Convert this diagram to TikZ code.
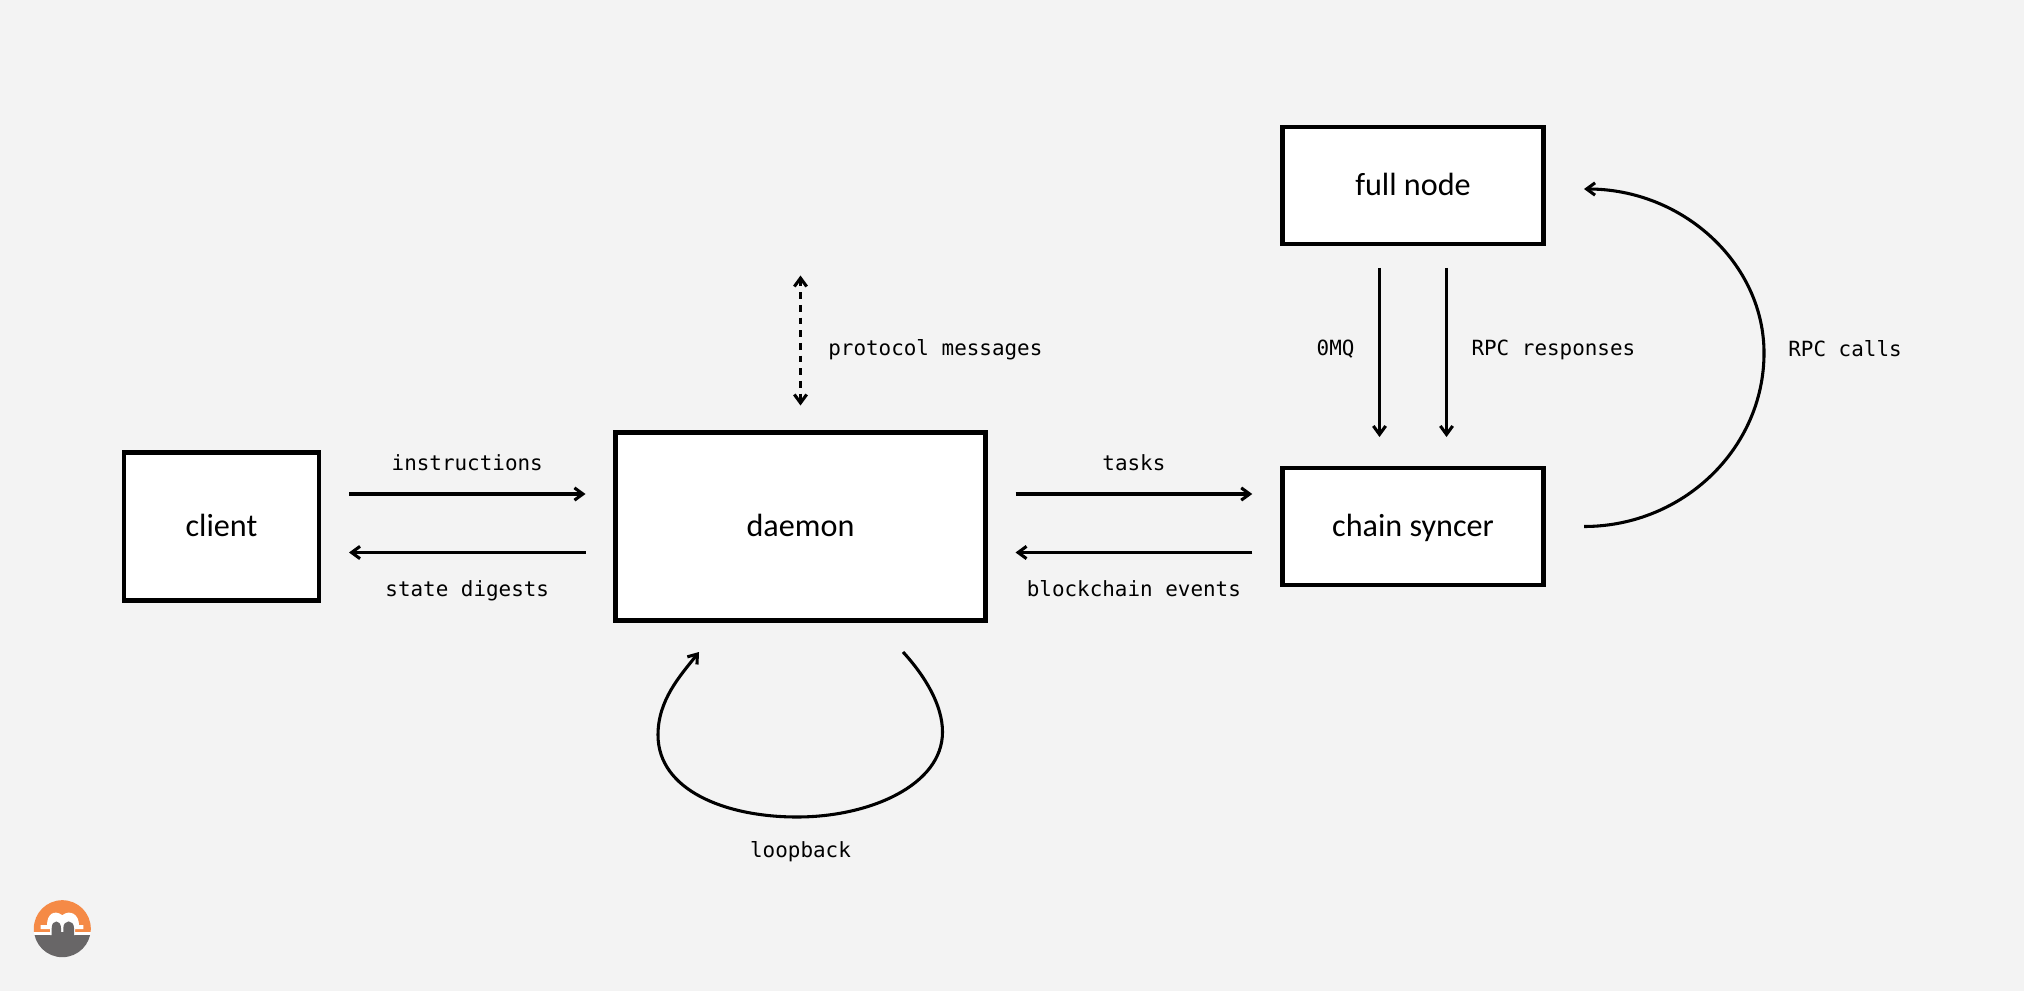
\documentclass[tikz,border=0pt]{standalone}
\usepackage{fontspec}
\setmainfont{Carlito}
\setmonofont{DejaVu Sans Mono}
\usetikzlibrary{arrows.meta,positioning}
\definecolor{pagebg}{HTML}{F3F3F3}
\definecolor{logoorange}{HTML}{F58A46}
\definecolor{logogrey}{HTML}{686667}
\tikzset{>={Straight Barb[length=4.8pt,width=7pt]}}
\tikzset{
  box/.style={draw, fill=white, line width=2.7pt, inner sep=0pt, outer sep=0pt, text height=12pt, text depth=.5pt, font=\fontsize{18.3pt}{20pt}\selectfont},
  tag/.style={inner sep=0pt, text height=10pt, text depth=1.4pt, font=\ttfamily\fontsize{11.9pt}{13pt}\selectfont},
  link/.style={->, line width=1.75pt, shorten <=0.6cm, shorten >=0.6cm},
  wire/.style={->, line width=1.75pt}
}
\begin{document}
\begin{tikzpicture}
      \fill[pagebg] (0,0) rectangle (40.48,19.82);
      \node[box, minimum width=3.9cm, minimum height=2.97cm] (client) at (4.43,9.29) {client};
      \node[box, minimum width=7.4cm, minimum height=3.76cm, right of=client, node distance=11.58cm] (daemon) {daemon};
      \node[box, minimum width=5.23cm, minimum height=2.34cm, right of=daemon, node distance=12.25cm] (chain) {chain syncer};
      \node[box, minimum width=5.23cm, minimum height=2.34cm, above of=chain, node distance=6.82cm] (full) {full node};
      % client <-> daemon
      \draw[link] ([yshift=0.65cm]client.east) -- node[tag, yshift=0.63cm] (instr) {instructions} ([yshift=0.65cm]daemon.west);
      \draw[link] ([yshift=-0.52cm]daemon.west) -- node[tag, yshift=-0.73cm] (digests) {state digests} ([yshift=-0.52cm]client.east);
      % daemon <-> chain syncer
      \draw[link] ([yshift=0.65cm]daemon.east) -- node[tag, yshift=0.63cm] (tasks) {tasks} ([yshift=0.65cm]chain.west);
      \draw[link] ([yshift=-0.52cm]chain.west) -- node[tag, yshift=-0.73cm] (events) {blockchain events} ([yshift=-0.52cm]daemon.east);
      % full node -> chain syncer
      \draw[wire, shorten <=0.48cm, shorten >=0.62cm] ([xshift=-0.67cm]full.south) -- node[tag, pos=0.464, left=0.47cm] (zmq) {0MQ} ([xshift=-0.67cm]chain.north);
      \draw[wire, shorten <=0.48cm, shorten >=0.62cm] ([xshift=0.67cm]full.south) -- node[tag, pos=0.464, right=0.47cm] (resp) {RPC responses} ([xshift=0.67cm]chain.north);
      % RPC calls
      \coordinate[right of=chain, node distance=3.42cm] (callout);
      \coordinate[right of=full, node distance=3.42cm, yshift=-0.07cm] (callin);
      \coordinate (callpeak) at ([xshift=3.6cm, yshift=3.47cm]callout);
      \draw[wire] (callout) .. controls +(1.98,0) and +(0,-1.91) .. (callpeak) .. controls +(0,1.79) and +(1.98,0) .. (callin);
      \node[tag, anchor=west] (calls) at ([xshift=0.48cm, yshift=0.09cm]callpeak) {RPC calls};
      % protocol
      \coordinate[above of=daemon, node distance=5.02cm] (prototop);
      \draw[wire, <->, dash pattern=on 3.9pt off 3.3pt] (prototop) -- ([yshift=0.54cm]daemon.north);
      \node[tag, anchor=west] (proto) at ([xshift=0.55cm, yshift=1.69cm]daemon.north) {protocol messages};
      % loopback
      \begin{scope}[shift={(daemon.south)}]
        \coordinate (loopout) at (2.05,-0.63);
        \coordinate (loopin) at (-2.03,-0.63);
        \draw[wire] (loopout) .. controls (2.49,-1.11) and (2.84,-1.69) .. (2.84,-2.23)
          .. controls (2.84,-3.29) and (1.39,-3.93) .. (-0.07,-3.93)
          .. controls (-1.51,-3.93) and (-2.85,-3.39) .. (-2.85,-2.29)
          .. controls (-2.85,-1.59) and (-2.41,-1.11) .. (loopin);
      \end{scope}
      \node[tag, below of=daemon, node distance=6.47cm] (loop) {loopback};
      % logo
      \begin{scope}[shift={(0,19.82)}, x=0.02cm, y=-0.02cm]
        \clip (62.3,928.5) circle[radius=28.5];
        \fill[logoorange] (30,895) rectangle (95,932);
        \fill[logogrey] (30,935) rectangle (95,960);
        \fill[white] (30,931.7) rectangle (95,935);
        \fill[white] (40.7,925) -- (47,925) .. controls (47,914) and (54,909) .. (62.3,915) .. controls (70,909) and (79,914) .. (79,925) -- (83.3,925) -- (83.3,929) -- (75,929) -- (75,935) -- (50,935) -- (50,929) -- (40.7,929) -- cycle;
        \fill[logogrey] (51.7,938) -- (51.7,928) .. controls (51.7,919) and (61,919) .. (61,928) -- (61,932) -- (63.3,932) -- (63.3,928) .. controls (63.3,919) and (74,919) .. (74,928) -- (74,938) -- cycle;
      \end{scope}
\end{tikzpicture}
\end{document}
